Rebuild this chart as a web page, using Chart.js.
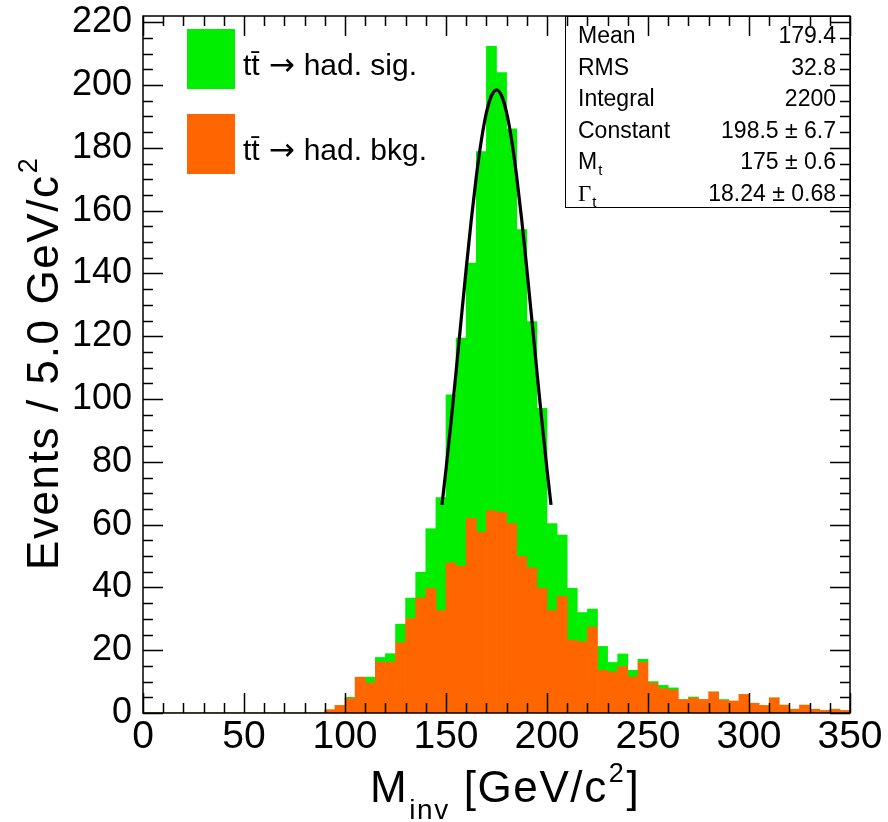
<!DOCTYPE html>
<html>
<head>
<meta charset="utf-8">
<script src="https://cdn.jsdelivr.net/npm/chart.js@4.4.0/dist/chart.umd.min.js"></script>
<style>
html,body{margin:0;padding:0;background:#ffffff;}
canvas{display:block;}
</style>
</head>
<body>
<canvas id="c" width="888" height="822"></canvas>
<script>
// ---- data ----
const binLowEdges = [0,5,10,15,20,25,30,35,40,45,50,55,60,65,70,75,80,85,
  90,95,100,105,110,115,120,125,130,135,140,145,150,155,160,165,170,175,180,185,
  190,195,200,205,210,215,220,225,230,235,240,245,250,255,260,265,270,275,280,285,
  290,295,300,305,310,315,320,325,330,335,340,345];
const binWidth = 5;

const backgroundCounts = [0,0,0,0,0,0,0,0,0,0,0,0,0,0,0,0,0,0,
  1.0,2.4,4.6,11.4,9.6,16.2,16.2,22.4,30.1,36.6,39.7,32.6,47.8,46.7,62.0,57.6,64.4,63.9,60.3,49.8,
  46.2,39.7,32.6,37.2,23.2,22.7,27.4,13.6,13.1,14.8,11.5,16.1,9.5,7.8,7.3,4.3,4.8,4.3,6.7,4.0,
  3.8,5.9,3.1,2.4,4.8,2.5,1.2,2.5,1.2,0.8,1.2,0.8];

const signalCounts = [0,0,0,0,0,0,0,0,0,0,0,0,0,0,0,0,0,0,
  0,0,0.4,0,1.8,1.5,2.7,5.9,6.5,8.2,19.0,36.0,53.5,72.7,81.3,121.2,147.9,140.1,125.8,104.2,
  78.5,57.3,27.7,19.5,16.5,9.3,5.7,7.6,3.0,4.0,2.1,1.0,0.5,1.0,0.7,0,0.3,0,0,0.3,
  0,0,0,0,0,0,0,0,0,0,0,0];

// fitted curve, points
const fitX = [148,150,152.5,155,157.5,160,162.5,165,167.5,170,172.5,175,177.5,180,182.5,185,187.5,190,192.5,195,197.5,200,202];
const fitY = [66.3,77.6,92.7,108.8,125.3,141.5,157.0,170.8,182.4,191.2,196.6,198.5,196.6,191.2,182.4,170.8,157.0,141.5,125.3,108.8,92.7,77.6,66.3];

const xTickValues = [0,50,100,150,200,250,300,350];
const yTickValues = [0,20,40,60,80,100,120,140,160,180,200,220];

// legend label pieces: process, arrow, final state
const legendHead = ['tt\u0304', 'tt\u0304'];
const legendArrow = '\u2192';
const legendTail = ['had. sig.', 'had. bkg.'];
const statsNames = ['Mean','RMS','Integral','Constant','M','\u0393'];
const statsSubs = ['','','','','t','t'];
const statsValues = ['179.4','32.8','2200','198.5 \u00b1 6.7','175 \u00b1 0.6','18.24 \u00b1 0.68'];

// ---- styling ----
const GREEN = '#00ee00';
const ORANGE = '#ff6600';
const FONT = "'Liberation Sans', Arial, Helvetica, sans-serif";

const decor = {
  id: 'decor',
  afterDatasetsDraw(chart) {
    const ctx = chart.ctx;
    const {left, right, top, bottom} = chart.chartArea;
    const xs = chart.scales.x, ys = chart.scales.y;
    ctx.save();

    // stats box
    const bx = 565, bb = 207;
    ctx.fillStyle = '#ffffff';
    ctx.fillRect(bx, top, right - bx, bb - top);
    ctx.strokeStyle = '#000';
    ctx.lineWidth = 1;
    ctx.strokeRect(bx + 0.5, top + 0.5, right - bx, bb - top);
    ctx.fillStyle = '#000';
    ctx.textBaseline = 'alphabetic';
    for (let i = 0; i < statsNames.length; i++) {
      const yb = 43 + i * 31.6;
      ctx.textAlign = 'left';
      ctx.font = (statsNames[i] === '\u0393' ? "23px 'Liberation Serif', serif" : '23px ' + FONT);
      ctx.fillText(statsNames[i], 578, yb);
      if (statsSubs[i]) {
        const w = ctx.measureText(statsNames[i]).width;
        ctx.font = '15px ' + FONT;
        ctx.fillText(statsSubs[i], 578 + w + 1, yb + 6);
      }
      ctx.font = '23px ' + FONT;
      ctx.textAlign = 'right';
      ctx.fillText(statsValues[i], 836, yb);
    }

    // ticks on all four sides (inward)
    ctx.strokeStyle = '#000';
    ctx.lineWidth = 1.5;
    ctx.beginPath();
    for (let v = 0; v <= 350; v += 10) {
      const len = (v % 50 === 0) ? 20 : 10;
      const px = Math.round(xs.getPixelForValue(v)) + 0.5;
      ctx.moveTo(px, bottom); ctx.lineTo(px, bottom - len);
      ctx.moveTo(px, top); ctx.lineTo(px, top + len);
    }
    for (let v = 0; v <= ys.max; v += 5) {
      const len = (v % 20 === 0) ? 20 : 10;
      const py = Math.round(ys.getPixelForValue(v)) + 0.5;
      ctx.moveTo(left, py); ctx.lineTo(left + len, py);
      ctx.moveTo(right, py); ctx.lineTo(right - len, py);
    }
    ctx.stroke();
    ctx.lineWidth = 1.5;
    ctx.strokeRect(left, top, right - left, bottom - top);

    // legend
    const boxes = [{c: GREEN, y: 29}, {c: ORANGE, y: 114}];
    ctx.textAlign = 'left';
    for (let i = 0; i < 2; i++) {
      ctx.fillStyle = boxes[i].c;
      ctx.fillRect(187, boxes[i].y, 48, 60);
      ctx.fillStyle = '#000';
      const yb = boxes[i].y + 46;
      let lx = 243;
      ctx.font = '30px ' + FONT;
      ctx.fillText(legendHead[i], lx, yb);
      lx += ctx.measureText(legendHead[i]).width + 9;
      ctx.font = "31px 'DejaVu Sans', sans-serif";
      ctx.fillText(legendArrow, lx, yb);
      lx += ctx.measureText(legendArrow).width + 9;
      ctx.font = '30px ' + FONT;
      ctx.fillText(legendTail[i], lx, yb);
    }

    // x axis title: M_inv [GeV/c^2]
    try { ctx.letterSpacing = '1.6px'; } catch (e) {}
    let x = 370;
    const xb = 802;
    ctx.font = '44px ' + FONT;
    ctx.fillText('M', x, xb); x += ctx.measureText('M').width + 1;
    ctx.font = '28px ' + FONT;
    ctx.fillText('inv', x, xb + 17); x += ctx.measureText('inv').width;
    ctx.font = '44px ' + FONT;
    ctx.fillText(' [GeV/c', x, xb); x += ctx.measureText(' [GeV/c').width + 1;
    ctx.font = '27px ' + FONT;
    ctx.fillText('2', x, xb - 20); x += ctx.measureText('2').width + 1;
    ctx.font = '44px ' + FONT;
    ctx.fillText(']', x, xb);

    // y axis title (rotated)
    ctx.translate(58, 570);
    ctx.rotate(-Math.PI / 2);
    ctx.font = '44px ' + FONT;
    ctx.fillText('Events / 5.0 GeV/c', 0, 0);
    const w = ctx.measureText('Events / 5.0 GeV/c').width;
    ctx.font = '27px ' + FONT;
    ctx.fillText('2', w + 1, -21);
    try { ctx.letterSpacing = '0px'; } catch (e) {}

    ctx.restore();
  }
};

const bkgData = backgroundCounts.map((v, i) => ({x: binLowEdges[i] + binWidth / 2, y: v}));
const sigData = signalCounts.map((v, i) => ({x: binLowEdges[i] + binWidth / 2, y: v}));
const fitData = fitX.map((v, i) => ({x: v, y: fitY[i]}));

new Chart(document.getElementById('c'), {
  type: 'bar',
  data: {
    datasets: [
      {label: 'tt\u0304 \u2192 had. bkg.', data: bkgData, backgroundColor: ORANGE, borderWidth: 0,
       barPercentage: 1, categoryPercentage: 1, order: 1, stack: 'h'},
      {label: 'tt\u0304 \u2192 had. sig.', data: sigData, backgroundColor: GREEN, borderWidth: 0,
       barPercentage: 1, categoryPercentage: 1, order: 1, stack: 'h'},
      {type: 'line', label: 'fit', data: fitData, borderColor: '#000', borderWidth: 3.2,
       pointRadius: 0, tension: 0.4, cubicInterpolationMode: 'monotone', fill: false,
       yAxisID: 'yFit', order: 0}
    ]
  },
  options: {
    responsive: false,
    animation: false,
    devicePixelRatio: 1,
    layout: {padding: {top: 16, right: 38, left: 0, bottom: 0}},
    plugins: {legend: {display: false}, tooltip: {enabled: false}},
    scales: {
      x: {
        type: 'linear', min: 0, max: 350, stacked: true, offset: false,
        grid: {display: false, drawTicks: false, offset: false},
        border: {display: false},
        ticks: {autoSkip: false, maxRotation: 0, padding: 1, color: '#000',
                font: {family: FONT, size: 39}, callback: v => String(v)},
        afterBuildTicks: s => { s.ticks = xTickValues.map(v => ({value: v})); },
        afterFit: s => { s.height = 109; s.paddingLeft = 0; s.paddingRight = 0; }
      },
      y: {
        type: 'linear', min: 0, max: 222, stacked: true,
        grid: {display: false, drawTicks: false},
        border: {display: false},
        ticks: {autoSkip: false, padding: 11, color: '#000',
                font: {family: FONT, size: 36}, callback: v => String(v)},
        afterBuildTicks: s => { s.ticks = yTickValues.map(v => ({value: v})); },
        afterFit: s => { s.width = 143; s.paddingTop = 0; s.paddingBottom = 0; }
      },
      yFit: {type: 'linear', display: false, min: 0, max: 222}
    }
  },
  plugins: [decor]
});
</script>
</body>
</html>
